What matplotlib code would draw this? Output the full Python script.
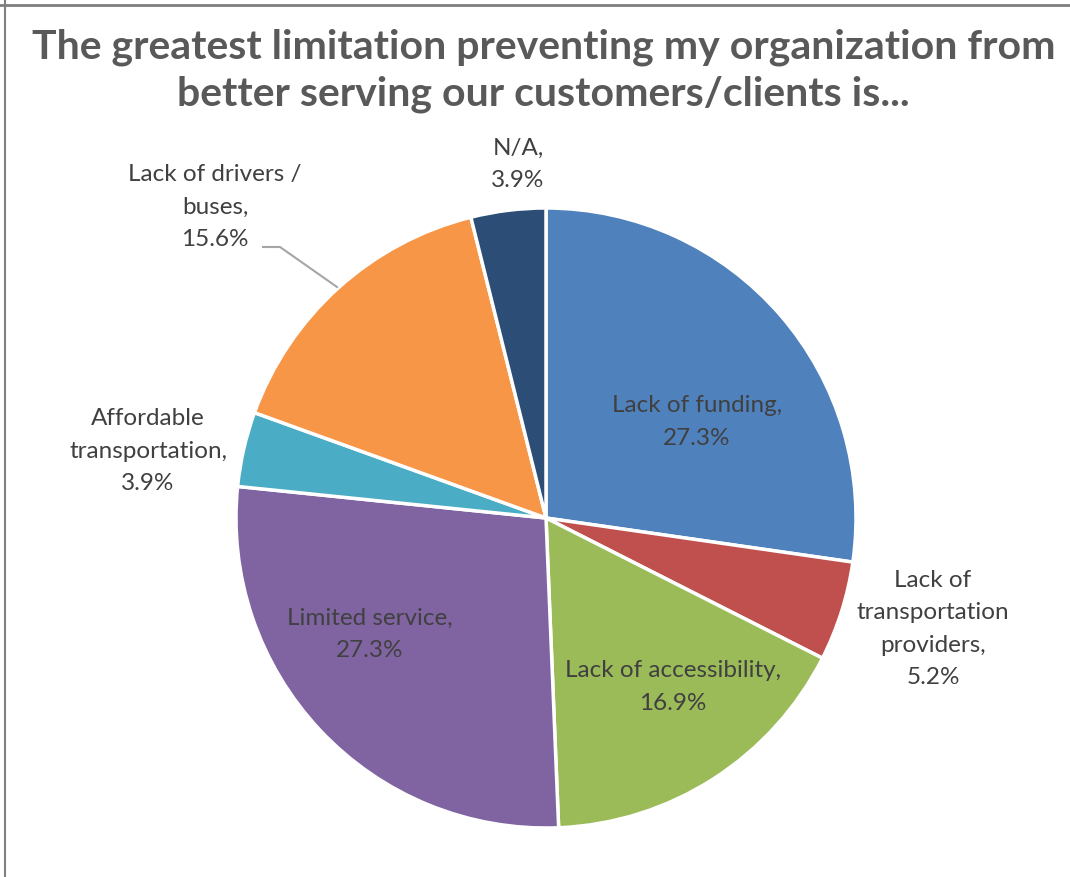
import matplotlib
matplotlib.use('Agg')
import matplotlib.pyplot as plt
from matplotlib.lines import Line2D

# data, clockwise from 12 o'clock
labels = ['Lack of funding', 'Lack of transportation providers', 'Lack of accessibility',
          'Limited service', 'Affordable transportation', 'Lack of drivers / buses', 'N/A']
values = [27.3, 5.2, 16.9, 27.3, 3.9, 15.6, 3.9]
colors = ['#4F81BD', '#C0504D', '#9BBB59', '#8064A2', '#4BACC6', '#F79646', '#2C4D75']

# label text as shown in the chart (manual line breaks)
label_text = ['Lack of funding,\n27.3%',
              'Lack of\ntransportation\nproviders,\n5.2%',
              'Lack of accessibility,\n16.9%',
              'Limited service,\n27.3%',
              'Affordable\ntransportation,\n3.9%',
              'Lack of drivers /\nbuses,\n15.6%',
              'N/A,\n3.9%']
# label centres in pixel coords (y from top)
label_pos = [(697, 422), (933, 629), (673, 687), (370, 634), (148, 451), (215, 207), (518, 164)]

W, H = 1070, 877
fig = plt.figure(figsize=(W / 100, H / 100), dpi=100)
ax = fig.add_axes([0, 0, 1, 1])

cx, cy, r = 546, H - 518, 310
ax.pie(values, colors=colors, startangle=90, counterclock=False,
       center=(cx, cy), radius=r, frame=True,
       wedgeprops=dict(edgecolor='white', linewidth=2.5))
ax.set_xlim(0, W)
ax.set_ylim(0, H)
ax.set_aspect('equal')
ax.axis('off')

for txt, (x, y) in zip(label_text, label_pos):
    ax.text(x, H - y, txt, ha='center', va='center', fontsize=17.5, color='#404040',
            family='Lato', linespacing=1.65)

# leader line for the drivers / buses label
ax.plot([263, 280, 337], [H - 247, H - 247, H - 287], color='#A6A6A6', lw=1.5)

fig.text(0.508, 1 - 71 / H, 'The greatest limitation preventing my organization from\n'
         'better serving our customers/clients is...',
         ha='center', va='center', fontsize=29.5, fontweight='bold', color='#595959',
         family='Lato', linespacing=1.32)

# frame lines (top and left)
fig.add_artist(Line2D([0, 1], [1 - 4.5 / H, 1 - 4.5 / H], transform=fig.transFigure, color='#7F7F7F', lw=2))
fig.add_artist(Line2D([4.5 / W, 4.5 / W], [0, 1], transform=fig.transFigure, color='#7F7F7F', lw=1.5))

fig.savefig('out.png', dpi=100)
